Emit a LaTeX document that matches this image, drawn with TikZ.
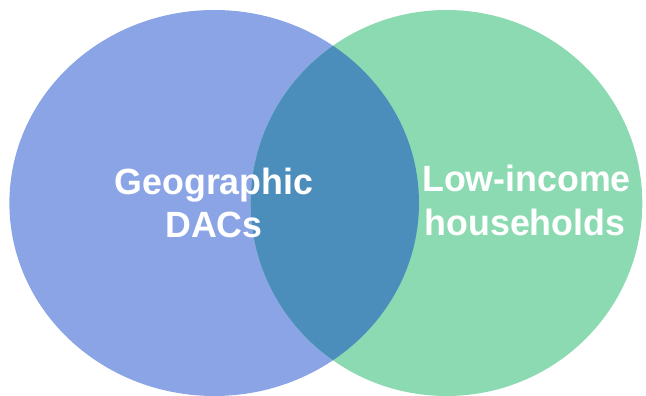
\documentclass[tikz,border=0pt]{standalone}
\usepackage{fontspec}
\setmainfont{Liberation Sans}
\definecolor{leftc}{RGB}{138,164,229}
\definecolor{rightc}{RGB}{140,218,178}
\definecolor{overc}{RGB}{76,142,187}
\begin{document}
\begin{tikzpicture}[x=1pt,y=1pt,
  lbl/.style={text=white,font=\fontsize{36.5}{42}\selectfont\bfseries,inner sep=0pt,anchor=base,xscale=0.98}]
\useasboundingbox (0,0) rectangle (646,396);
\fill[leftc] (214.2,193) ellipse [x radius=204.8,y radius=193];
\fill[rightc] (446.5,193) ellipse [x radius=195.8,y radius=193];
\begin{scope}
\clip (214.2,193) ellipse [x radius=204.8,y radius=193];
\fill[overc] (446.5,193) ellipse [x radius=195.8,y radius=193];
\end{scope}
\node[lbl] (geo1) at (214,201) {Geographic};
\node[lbl] (geo2) at (214,158) {DACs};
\node[lbl] (low1) at (526.5,204) {Low-income};
\node[lbl] (low2) at (525,160) {households};
\end{tikzpicture}
\end{document}
